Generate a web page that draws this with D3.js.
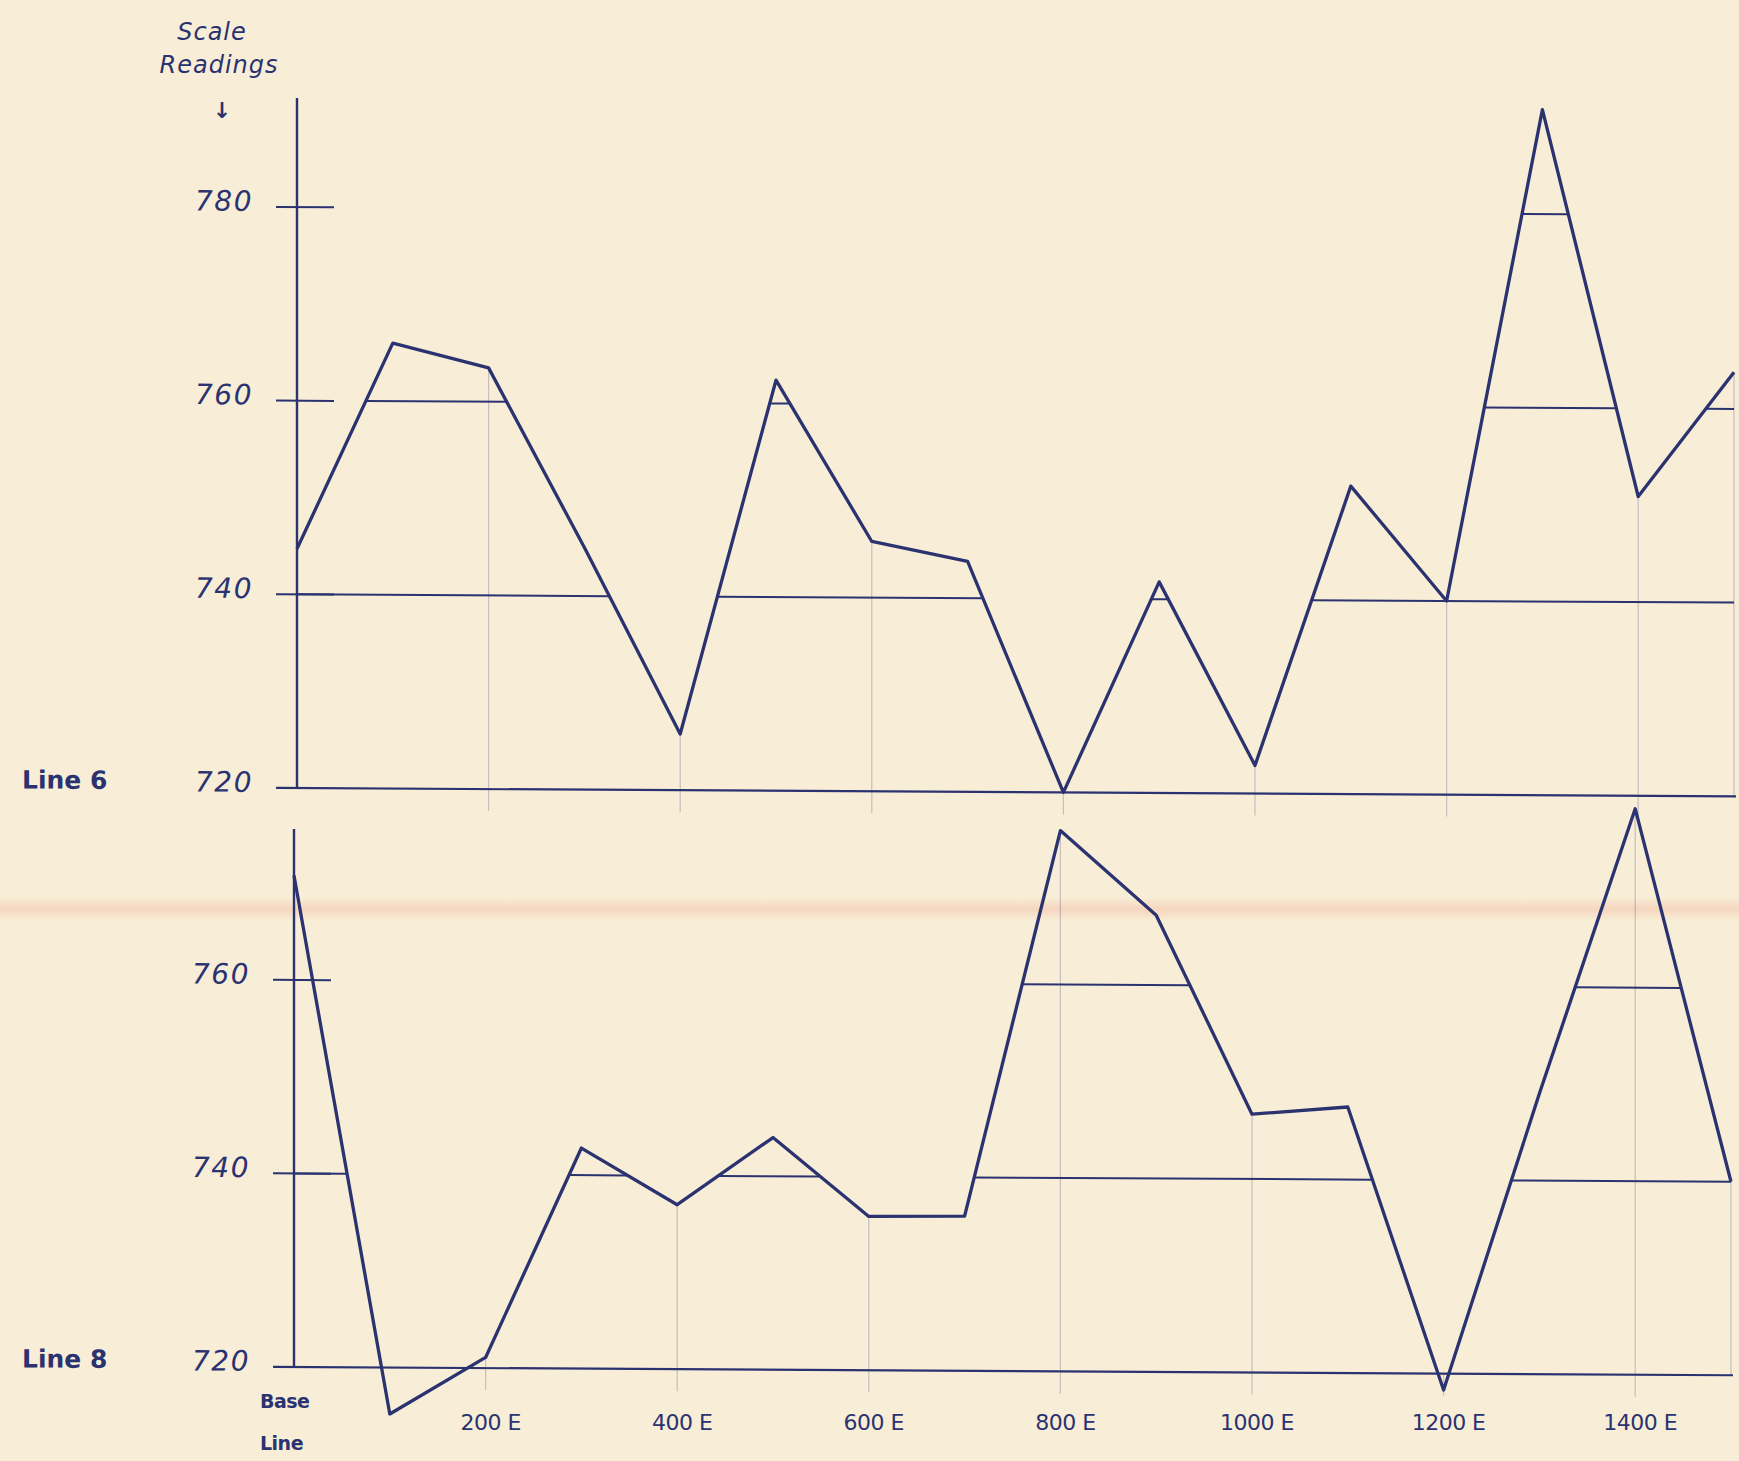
<!DOCTYPE html>
<html>
<head>
<meta charset="utf-8">
<script src="https://cdn.jsdelivr.net/npm/d3@7/dist/d3.min.js"></script>
<style>
	body { margin: 0; background: #f8eed7; }
	svg { display: block; }
	text { fill: #2b3270; font-family: "DejaVu Sans", sans-serif; }
</style>
</head>
<body>
<svg id="chart" width="1739" height="1461"></svg>
<script>
// stations along the traverse (feet east of base line)
var stations = [0, 100, 200, 300, 400, 500, 600, 700, 800, 900, 1000, 1100, 1200, 1300, 1400, 1500];

// scale readings
var line6_readings = [744.7, 766.0, 763.5, 745.0, 725.8, 762.4, 745.8, 743.8, 720.0, 741.8, 722.9, 751.8, 740.0, 790.8, 750.9, 763.8];
var line8_readings = [770.8, 715.2, 721.1, 742.8, 737.0, 744.0, 735.9, 736.0, 775.9, 767.2, 746.7, 747.5, 718.3, 749.0, 778.5, 740.0];

var line6_ticks = [720, 740, 760, 780];
var line8_ticks = [720, 740, 760];
var station_ticks = [200, 400, 600, 800, 1000, 1200, 1400];

var ink = "#2b3270";
var svg = d3.select("#chart");

var x = d3.scaleLinear().domain([0, 1500]).range([297, 1734]);
var y6 = d3.scaleLinear().domain([720, 780]).range([788, 207]);
var y8 = d3.scaleLinear().domain([720, 760]).range([1367, 980]);

// pinkish fold mark across the sheet
var grad = svg.append("defs").append("linearGradient")
	.attr("id", "fold").attr("x1", 0).attr("x2", 0).attr("y1", 0).attr("y2", 1);
grad.append("stop").attr("offset", "0%").attr("stop-color", "#f2b8a2").attr("stop-opacity", 0);
grad.append("stop").attr("offset", "50%").attr("stop-color", "#f2b8a2").attr("stop-opacity", 0.45);
grad.append("stop").attr("offset", "100%").attr("stop-color", "#f2b8a2").attr("stop-opacity", 0);
svg.append("rect").attr("x", 0).attr("y", 897).attr("width", 1739).attr("height", 24).attr("fill", "url(#fold)");

// the sheet was scanned a little askew: horizontals drop toward the right
var px = x(0), py = y6(720);
var sheet = svg.append("g")
	.attr("transform", "translate(" + px + "," + py + ") skewY(0.33) translate(" + (-px) + "," + (-py) + ")");

function level_spans(readings, level) {
	var spans = [];
	for (var i = 0; i < readings.length - 1; i++) {
		var a = readings[i], b = readings[i + 1];
		var x1 = stations[i], x2 = stations[i + 1];
		if (a < level && b < level) continue;
		var s = x1, e = x2;
		if (a < level) s = x1 + (level - a) / (b - a) * (x2 - x1);
		if (b < level) e = x1 + (level - a) / (b - a) * (x2 - x1);
		var last = spans[spans.length - 1];
		if (last && Math.abs(last[1] - s) < 1e-6) {
			last[1] = e;
		} else {
			spans.push([s, e]);
		}
	}
	return spans;
}

function draw_panel(readings, y, ticks, name, axis_top, shift) {
	var g = sheet.append("g").attr("transform", "translate(" + shift + ",0)");

	// faint pencil drop lines at the labelled stations
	stations.forEach(function(s, i) {
		if (s == 0 || (s % 200 != 0 && s != 1500)) return;
		var v = Math.max(readings[i], 720);
		g.append("line")
			.attr("x1", x(s)).attr("x2", x(s))
			.attr("y1", y(v)).attr("y2", y(720) + (s == 1500 ? 0 : 22))
			.attr("stroke", ink).attr("stroke-opacity", 0.25).attr("stroke-width", 1.2);
	});

	// vertical scale
	g.append("line")
		.attr("x1", x(0)).attr("x2", x(0))
		.attr("y1", axis_top).attr("y2", y(720))
		.attr("stroke", ink).attr("stroke-width", 2.4);

	// base line
	g.append("line")
		.attr("x1", x(0) - 21).attr("x2", x(1500) + 2)
		.attr("y1", y(720)).attr("y2", y(720))
		.attr("stroke", ink).attr("stroke-width", 2.2);

	ticks.forEach(function(t) {
		if (t == 720) return;
		g.append("line")
			.attr("x1", x(0) - 21).attr("x2", x(0) + 37)
			.attr("y1", y(t)).attr("y2", y(t))
			.attr("stroke", ink).attr("stroke-width", 2);
		level_spans(readings, t).forEach(function(sp) {
			g.append("line")
				.attr("x1", x(sp[0])).attr("x2", x(sp[1]))
				.attr("y1", y(t)).attr("y2", y(t))
				.attr("stroke", ink).attr("stroke-width", 2);
		});
	});

	ticks.forEach(function(t) {
		g.append("text")
			.attr("x", x(0) - 44).attr("y", y(t) + 4)
			.attr("text-anchor", "end")
			.attr("font-size", 28).attr("font-style", "italic")
			.attr("letter-spacing", 1.5)
			.text(t);
	});

	var profile = d3.line()
		.x(function(d, i) { return x(stations[i]); })
		.y(function(d) { return y(d); });

	g.append("path")
		.datum(readings)
		.attr("d", profile)
		.attr("fill", "none")
		.attr("stroke", ink)
		.attr("stroke-width", 3.3)
		.attr("stroke-linejoin", "round");

	g.append("text")
		.attr("x", 22 - shift).attr("y", y(720) + 2)
		.attr("font-size", 25).attr("font-weight", "bold")
		.text(name);
}

draw_panel(line6_readings, y6, line6_ticks, "Line 6", 98, 0);
draw_panel(line8_readings, y8, line8_ticks, "Line 8", 829, -3);

// axis title
svg.append("text").attr("x", 212).attr("y", 40)
	.attr("text-anchor", "middle").attr("font-size", 24).attr("font-style", "italic")
	.attr("letter-spacing", 1)
	.text("Scale");
svg.append("text").attr("x", 219).attr("y", 73)
	.attr("text-anchor", "middle").attr("font-size", 24).attr("font-style", "italic")
	.attr("letter-spacing", 1)
	.text("Readings");
svg.append("text").attr("x", 222).attr("y", 118)
	.attr("text-anchor", "middle").attr("font-size", 22).attr("font-weight", "bold")
	.text("↓");

// station labels
station_ticks.forEach(function(s) {
	svg.append("text")
		.attr("x", x(s) + 2).attr("y", 1430)
		.attr("text-anchor", "middle")
		.attr("font-size", 22)
		.attr("letter-spacing", -0.5)
		.text(s + " E");
});

svg.append("text").attr("x", 260).attr("y", 1408)
	.attr("font-size", 19).attr("font-weight", "bold").attr("letter-spacing", -0.5).text("Base");
svg.append("text").attr("x", 260).attr("y", 1450)
	.attr("font-size", 19).attr("font-weight", "bold").attr("letter-spacing", -0.5).text("Line");
</script>
</body>
</html>
